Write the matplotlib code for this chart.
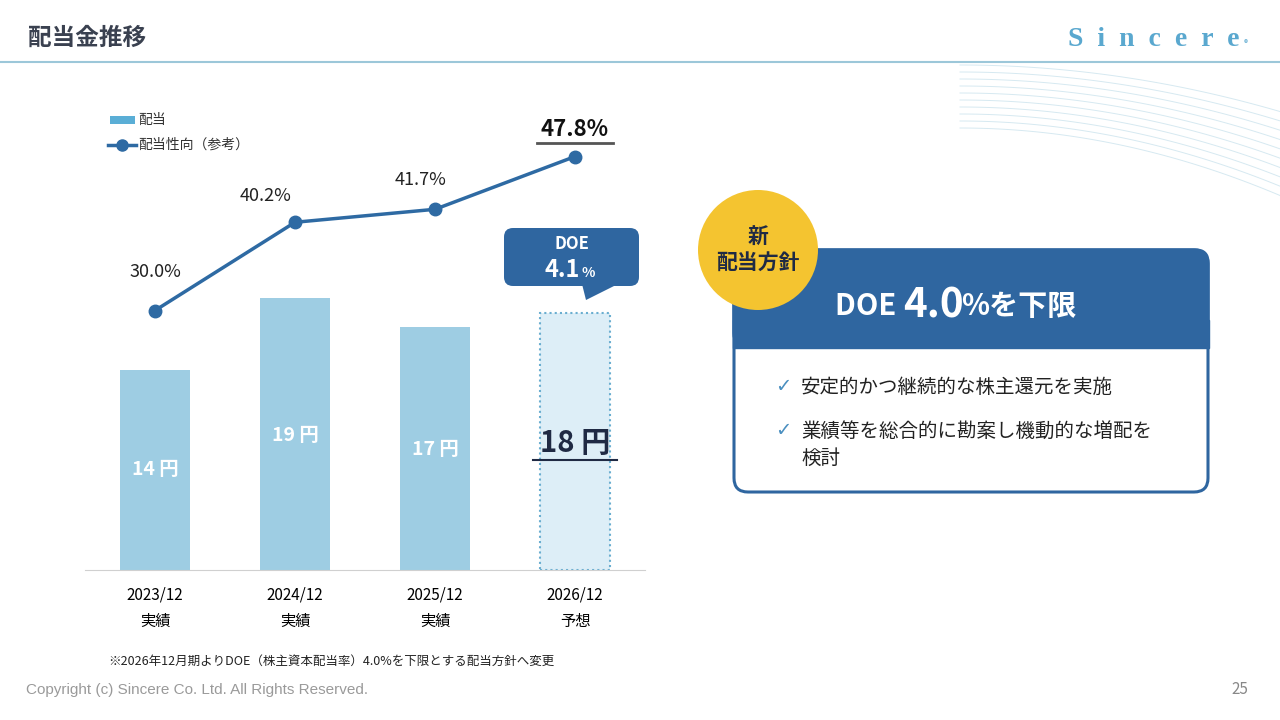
import matplotlib
matplotlib.use("Agg")
import matplotlib.pyplot as plt
from matplotlib.patches import FancyBboxPatch, Circle, Polygon, Rectangle
import numpy as np

plt.rcParams['font.family'] = ['Noto Sans CJK JP', 'DejaVu Sans']

years = ["2023/12\n実績", "2024/12\n実績", "2025/12\n実績", "2026/12\n予想"]
dividend = [14, 19, 17, 18]
payout = [30.0, 40.2, 41.7, 47.8]

BAR = "#9ecde3"
LINE = "#2e6aa3"
NAVY = "#2f66a0"

fig = plt.figure(figsize=(12.8, 7.2), dpi=100)

# overlay in pixel coordinates for decorations
ov = fig.add_axes([0, 0, 1, 1])
ov.set_xlim(0, 1280); ov.set_ylim(720, 0); ov.axis("off")
ov.text(28, 38, "配当金推移", fontsize=17, fontweight="bold", color="#3a4150", va="center")
ov.text(1240, 40, "S  i  n  c  e  r  e", fontsize=20, color="#5aa8cf", ha="right", va="center",
        family="Liberation Serif", fontweight="bold")
ov.text(1244, 44, "®", fontsize=6, color="#5aa8cf", va="center")
ov.plot([0, 1280], [62, 62], color="#9cc7d9", lw=1.5)
for k in range(10):
    xs = np.linspace(960, 1280, 60)
    ov.plot(xs, 65 + k * 7 + (xs - 960) ** 2 / 2200 * (1 + k * 0.05), color="#d6e9f1", lw=0.7)
ov.text(26, 690, "Copyright (c) Sincere Co. Ltd. All Rights Reserved.", fontsize=11,
        color="#9a9a9a", family="Liberation Sans", va="center")
ov.text(1248, 690, "25", fontsize=11, color="#888888", ha="right", va="center")
ov.text(108, 661, "※2026年12月期よりDOE（株主資本配当率）4.0%を下限とする配当方針へ変更",
        fontsize=9, color="#222222", va="center")

# right panel
ov.add_patch(FancyBboxPatch((734, 250), 474, 242, boxstyle="round,pad=0,rounding_size=14",
                            fc="white", ec=NAVY, lw=2.2))
ov.add_patch(FancyBboxPatch((733, 249), 476, 98, boxstyle="round,pad=0,rounding_size=14",
                            fc=NAVY, ec=NAVY))
ov.add_patch(Rectangle((733, 320), 476, 28, fc=NAVY, ec=NAVY))
ov.text(903, 306, "DOE ", fontsize=21, fontweight="bold", color="white", ha="right", va="center")
ov.text(903, 306, "4.0", fontsize=29, fontweight="bold", color="white", ha="left", va="center")
ov.text(961, 306, "%を下限", fontsize=21, fontweight="bold", color="white", ha="left", va="center")
ov.add_patch(Circle((758, 250), 60, fc="#f4c430", ec="none"))
ov.text(758, 250, "新\n配当方針", fontsize=15, fontweight="bold", color="#1f2a44",
        ha="center", va="center", linespacing=1.2)
ov.text(775, 387, "✓", fontsize=14, color="#4a8fc0", va="center", family="DejaVu Sans")
ov.text(801, 387, "安定的かつ継続的な株主還元を実施", fontsize=14, color="#222222", va="center")
ov.text(775, 431, "✓", fontsize=14, color="#4a8fc0", va="center", family="DejaVu Sans")
ov.text(801, 431, "業績等を総合的に勘案し機動的な増配を", fontsize=14, color="#222222", va="center")
ov.text(801, 458, "検討", fontsize=14, color="#222222", va="center")

# DOE callout
ov.add_patch(FancyBboxPatch((504, 228), 135, 58, boxstyle="round,pad=0,rounding_size=9",
                            fc=NAVY, ec="none"))
ov.add_patch(Polygon([[582, 284], [586, 300], [618, 284]], closed=True, fc=NAVY, ec="none"))
ov.text(572, 244, "DOE", fontsize=12, fontweight="bold", color="white", ha="center", va="center")
ov.text(580, 270, "4.1", fontsize=17, fontweight="bold", color="white", ha="right", va="center")
ov.text(582, 273, "%", fontsize=10, fontweight="bold", color="white", ha="left", va="center")

# chart
ax = fig.add_axes([85 / 1280, 150 / 720, 560 / 1280, 470 / 720])
ax.set_zorder(2); ax.patch.set_alpha(0)
x = np.arange(len(years))
label_y = [7.0, 9.4, 8.4, 8.9]
for i, v in enumerate(dividend):
    if i < 3:
        ax.bar(i, v, width=0.5, color=BAR, ec="none")
        ax.text(i, label_y[i], f"{v} 円", fontsize=14, fontweight="bold",
                color="white", ha="center", va="center")
    else:
        ax.bar(i, v, width=0.5, color="#ddeef7", ec="#6aaed0", lw=1.5, ls=(0, (1, 1.5)))
        ax.text(i, label_y[i], f"{v} 円", fontsize=21, fontweight="bold", color="#1f2a44",
                ha="center", va="center")
        ax.plot([i - 0.3, i + 0.3], [7.7, 7.7], color="#1f2a44", lw=1.5)
ax.set_xlim(-0.5, 3.5)
ax.set_ylim(0, 470 / 14.3)
ax.set_yticks([])
ax.set_xticks(x)
ax.set_xticklabels(years, fontsize=11, linespacing=1.7)
ax.tick_params(axis="x", length=0, pad=12)
for s in ["top", "right", "left"]:
    ax.spines[s].set_visible(False)
ax.spines["bottom"].set_color("#d0d0d0")

ax2 = ax.twinx()
ax2.set_zorder(3)
ax2.plot(x, payout, color=LINE, lw=2.5, marker="o", ms=9)
ax2.set_ylim(0, 470 / 8.65)
ax2.axis("off")
lab_dx = [0.0, -0.21, -0.1]
lab_dy = [3.4, 2.0, 2.3]
for i, p in enumerate(payout):
    if i < 3:
        ax2.text(i + lab_dx[i], p + lab_dy[i], f"{p:.1f}%", fontsize=13,
                 color="#222222", ha="center", va="bottom")
    else:
        ax2.text(i, p + 1.8, f"{p:.1f}%", fontsize=16, fontweight="bold",
                 color="#111111", ha="center", va="bottom")
        ax2.plot([i - 0.27, i + 0.27], [p + 1.6, p + 1.6], color="#555555", lw=2)

# legend
ov.add_patch(Rectangle((110, 116), 25, 8, fc="#5aaed6", ec="none"))
ov.text(138, 120, "配当", fontsize=10, color="#333333", va="center")
ov.plot([108, 136], [145, 145], color=LINE, lw=2.5)
ov.plot([122], [145], marker="o", color=LINE, ms=8)
ov.text(138, 145, "配当性向（参考）", fontsize=10, color="#333333", va="center")

fig.savefig("out.png", dpi=100)
